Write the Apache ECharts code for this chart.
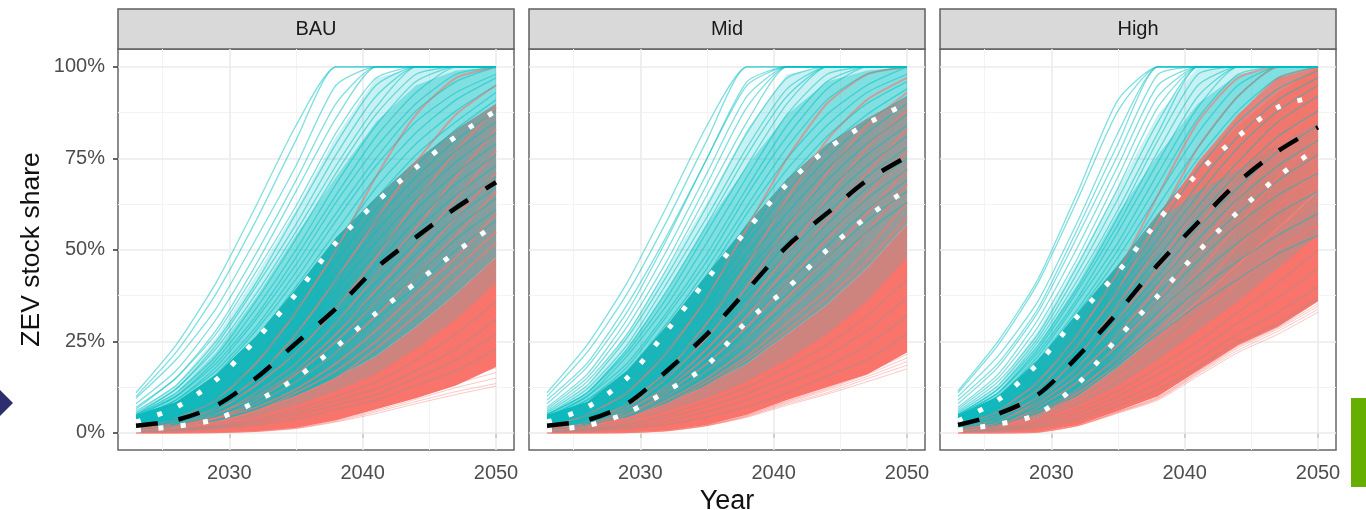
<!DOCTYPE html>
<html><head><meta charset="utf-8">
<style>html,body{margin:0;padding:0;background:#fff}#c{width:1366px;height:510px}</style>
<script src="https://cdn.jsdelivr.net/npm/echarts@6/dist/echarts.min.js"></script>
</head><body><div id="c"></div>
<script>
const years=[2023,2026,2029,2032,2035,2038,2041,2044,2047,2050];
const panels=['BAU','Mid','High'];
const yTicks=[0,25,50,75,100];
const yMinor=[12.5,37.5,62.5,87.5];
const xTicks=[2030,2040,2050];
const xMinor=[2025,2035,2045];

// quantile and median curves
const bauUpper=[3,7,14.5,25.5,38,52,63,72.5,81,88];
const bauMedian=[2,3.5,7.5,15,24.5,34,45,53.5,61.5,68.5];
const bauLower=[.8,1.8,3.8,8.6,15,23.5,32.7,41,49.5,57];
const midUpper=[3,7,15,28,42,55.5,68,77.5,84.5,90];
const midMedian=[2,3.5,8,17,27,39,51,60,69,75.5];
const midLower=[.8,2,5.5,11.5,18.5,30.5,39.5,50,59,66.5];
const highUpper=[3.3,9,19,32,44,58,71,81,89,92];
const highMedian=[2.2,5.2,10.5,21,33,46,57.5,68.5,77,83.5];
const highLower=[.8,2.4,5.2,13.5,26,37.5,49.5,60.4,70,78];

// edges of the densely overlapped regions
const bauRedLo=[0,0,.1,.5,1.4,3.5,6.5,9.5,13,18];
const bauFade=[.7,1.2,2.4,4.5,7.5,11.5,16,23,31,41];
const bauRedHi=[.8,1.5,3,6,10,15,21,29,38,48];
const bauMixHi=[5,8.5,16,26.5,39.5,53.5,64.5,74.5,83,90];
const bauSoftHi=[5,11,22,37,54,70,85,95,99,100];
const bauOuter=[6,13,26,43,61,81,97,100,100,100];
const midRedLo=[0,0,.1,.7,2.2,5,9,12.5,16,22];
const midFade=[.7,1.4,3,6,9.5,14,20,27,36,48];
const midRedHi=[.8,1.8,4,8,13,19,27,35,45,57];
const midMixHi=[5,8.5,17,29.5,43.5,57,69.5,79,86,92];
const midSoftHi=[5,11,23,39,57,73,87,96,99,100];
const midOuter=[6,13,27,45,63,83,98,100,100,100];
const highRedLo=[0,.05,.3,2.2,6,10,17,24,29,36];
const highFade=[.7,1.5,3.5,7.5,13,20,28,36,45,54];
const highRedHi=[.8,2,4.5,10,18,27,36,46,56,66];
const highMixHi=[5,10,20,33,46,60,73,84,93,100];
const highSoftHi=[5,11,24,41,60,76,90,98,100,100];
const highOuter=[6,13,28,47,67,87,100,100,100,100];
const highPatchLo=[3.3,9,19,32,44,58,66,72,79,85];
const highPatchHi=[3.3,9,19,32,44,58,74,87,97,100];

const bauTeal=[
[11,24,41,62,84,100,100,100,100,100],[10,22,38,58,80,100,100,100,100,100],[9.5,20,34,53,73,95,100,100,100,100],
[8,17,31,49,69,90,100,100,100,100],[7,15,28,46,66,86,100,100,100,100],[6.5,15,27,44,62,82,97,100,100,100],
[6,13,25,41,60,79,95,100,100,100],[5.5,12,24,40,57,76,92,100,100,100],[5,12,23,38,55,73,89,100,100,100],
[5,11,21,36,53,71,87,98,100,100],[5,10,20,34,50,68,84,96,100,100],[4.5,10,19,32,48,65,81,93,100,100],
[4,9,18,31,46,63,78,90,98,100],[4,9,17,29,44,60,75,88,96,100],[4,8,16,28,42,58,73,85,93,98],
[4,8,15,26,40,55,70,82,91,97],[3.5,7,14,24,37,52,67,79,88,95],[3,7,13,23,35,50,64,76,85,93],
[3,6,12,21,33,47,61,73,83,91],[3,6,11,20,31,44,58,70,80,88],[3,5,10,18,29,42,55,67,77,85],
[2.5,5,9,17,27,39,52,64,74,82],[2.5,4,9,16,25,37,49,61,71,79],[2,4,8,15,23,34,46,58,68,76],
[2,4,7,14,22,32,43,55,65,73],[2,4,7,12,20,30,41,52,62,70],[2,3,6,11,19,28,38,49,59,67],
[1.5,3,6,10,17,26,36,46,56,64],[1.5,3,5,9,15,24,33,43,53,61],[1,2,5,8,14,22,31,40,50,58]];
const bauRed=[
[1.5,4,9,19,33,50,70,87,97,100],[1,3,7,15,27,42,58,74,87,95],[1,3,6,13,22,34,48,63,77,89],
[1,3,5,11,19,30,43,56,70,83],[1,2,5,10,17,27,39,51,64,77],[1,2,4,9,16,25,36,47,59,71],
[1,2,4,8,14,22,32,43,54,66],[1,2,4,7,12,19,28,38,48,60],[.8,2,3,6,11,17,25,35,45,55],
[.8,1.5,3,6,10,15,23,32,42,52]];
const bauGray=[[.5,1,2,3.8,6.5,10,14,20,27,36],[.5,1,1.8,3.3,5.6,8.8,12,17,23,31],[.4,.8,1.5,2.8,4.8,7.6,10.5,15,20,27],[.3,.6,1.2,2.2,3.8,6.4,9,13,17,23]];
const bauPale=[[0,0,.1,.4,1.2,3,5.3,8,10.5,12.8],[0,0,.1,.4,1.3,3.2,5.8,8.6,11.3,13.5],
[0,0,.1,.5,1.4,3.4,6.2,9.2,12.4,15],[0,0,.1,.5,1.5,3.7,6.6,10,13.5,16.5],[0,.1,.2,.6,1.7,4,7,10.6,14.4,17.8]];

const midTeal=[
[11,24,41,62,84,100,100,100,100,100],[10,22,38,58,80,100,100,100,100,100],[9,19,35,54,75,96,100,100,100,100],
[8,18,33,53,75,95,100,100,100,100],[7,16,31,50,71,92,100,100,100,100],[6.5,15,29,47,68,89,100,100,100,100],
[6,14,27,45,65,85,100,100,100,100],[5.5,13,26,43,62,82,97,100,100,100],[5,12,24,41,59,78,94,100,100,100],
[5,11,23,39,57,76,92,100,100,100],[5,11,22,37,55,73,90,100,100,100],[4.5,10,21,35,52,70,87,98,100,100],
[4,10,19,33,49,67,84,96,100,100],[4,9,18,32,47,65,81,94,100,100],[4,9,17,30,45,62,78,91,98,100],
[4,8,16,28,43,60,75,87,95,100],[3.5,8,15,26,41,57,72,84,93,98],[3,7,14,25,39,54,69,81,90,96],
[3,7,13,24,37,52,66,78,87,94],[3,6,12,22,35,49,63,75,85,92],[3,6,11,21,33,47,60,72,82,90],
[2.5,5,10,19,31,44,57,69,79,87],[2.5,5,10,18,29,42,55,66,76,84],[2,4,9,17,27,39,52,63,73,81],
[2,4,8,15,25,37,49,60,70,78],[2,4,8,14,24,35,46,57,67,75],[2,3,7,13,22,33,43,54,64,72],
[1.5,3,6,12,20,30,41,51,61,69],[1.5,3,6,11,18,28,38,48,58,66],[1,2,5,10,17,26,35,45,55,63]];
const midRed=[
[1.5,5,11,22,37,56,75,90,98,100],[1,3,8,17,30,46,64,80,91,97],[1,3,7,15,26,40,56,71,84,93],
[1,3,6,13,23,35,49,64,78,88],[1,2,6,12,21,32,45,58,71,83],[1,2,5,11,19,29,41,53,65,77],
[1,2,5,10,17,26,37,48,60,72],[1,2,4,9,15,23,33,43,55,68],[.8,2,4,8,14,21,30,39,50,63],
[.8,2,4,7,13,20,28,37,47,59]];
const midGray=[[.5,1.2,2.5,5,8.5,12.5,18,24,32,42],[.5,1,2.2,4.2,7.2,10.8,15.5,21,28,37],[.4,.8,1.6,3.2,5.8,9,13.5,18,24,32],[.3,.6,1.2,2.4,4.4,7.2,11,15.5,20,27]];
const midPale=[[0,0,.1,.6,2,4.3,7.6,10.6,14,17.5],[0,0,.1,.6,2,4.5,8,11,14.8,18.5],
[0,0,.1,.6,2.1,4.6,8.3,11.6,15.4,19.5],[0,0,.1,.7,2.1,4.8,8.6,12,16,20.5],[0,.1,.1,.7,2.2,4.9,8.8,12.3,16.4,21.5]];

const highTeal=[
[11.5,25,42,66,91,100,100,100,100,100],[11,24,41,64,88,100,100,100,100,100],[10,21,36,58,82,100,100,100,100,100],
[9,19,34,56,79,100,100,100,100,100],[8,18,33,54,76,98,100,100,100,100],[7,16,31,51,73,95,100,100,100,100],
[6.5,15,29,48,70,92,100,100,100,100],[6,14,27,46,67,89,100,100,100,100],[5.5,13,26,44,64,85,100,100,100,100],
[5,12,25,42,61,82,100,100,100,100],[5,12,24,40,59,80,98,100,100,100],[5,11,23,39,57,77,95,100,100,100],
[4.5,11,22,37,55,74,92,100,100,100],[4,10,21,36,52,71,89,100,100,100],[4,10,20,34,50,68,86,98,100,100],
[4,9,19,33,48,65,82,95,100,100],[3.5,9,18,31,45,62,78,92,100,100],[3,8,17,29,43,59,75,88,97,100],
[3,8,16,27,41,56,72,85,94,99],[3,7,15,26,39,53,68,81,91,97],[3,7,14,24,37,51,65,78,88,95],
[2.5,6,13,23,35,48,62,74,85,92],[2.5,6,12,22,33,46,59,71,81,88],[2,5,11,21,31,43,56,67,77,84],
[2,5,10,19,29,41,53,64,73,80],[2,4,9,18,27,38,50,60,69,76],[2,4,9,16,25,36,47,57,65,71],
[1.5,3,8,15,23,33,43,52,60,66],[1.5,3,7,13,21,30,39,47,54,60],[1,2,6,12,19,27,35,42,49,54]];
const highRed=[
[2,6,14,27,44,65,85,97,100,100],[1.5,5,12,24,39,58,78,92,100,100],[1,4,10,21,35,51,70,86,97,100],
[1,3,9,18,31,45,63,79,92,100],[1,3,8,16,27,40,56,71,85,96],[1,2,7,14,24,36,50,64,78,89],
[1,2,6,12,21,32,44,57,70,81],[.8,2,5,11,19,28,39,51,62,72],[.8,2,5,10,17,26,36,46,56,64],
[.8,2,4,9,15,23,32,41,50,57]];
const highGray=[[.5,1.2,3,6.5,11.5,18,25,33,41,50],[.5,1,2.5,5.5,10,16,22.5,30,37,45],[.4,.8,2,4.5,8.6,13.5,20,27,33,40],[.3,.6,1.5,3.6,7.4,11.8,18,25,30,37]];
const highPale=[[0,0,.2,2,5.4,9,15.5,22,27,33],[0,0,.2,2,5.6,9.3,16,22.6,27.8,33.8],
[0,0,.2,2.1,5.7,9.5,16.3,23.2,28.4,34.6],[0,.05,.3,2.1,5.8,9.7,16.6,23.6,28.8,35.3],[0,.05,.3,2.2,5.9,9.9,16.8,23.9,29,36]];

const left=[118,529,940];
const gridW=396, gridTop=49, gridH=401;
const TEAL='rgba(0,191,196,0.5)', RED='rgba(248,118,109,0.62)', PALE='rgba(248,118,109,0.4)', GRAY='rgba(140,150,150,0.28)';
const sets=[
 {u:bauUpper,m:bauMedian,l:bauLower,lo:bauRedLo,fade:bauFade,hi:bauRedHi,mix:bauMixHi,soft:bauSoftHi,outer:bauOuter,teal:bauTeal,red:bauRed,gray:bauGray,pale:bauPale,
  stops:[[0,'#19b6ba'],[.5,'#1db4b7'],[.72,'#5fa6a8'],[1,'#8c9c9c']]},
 {u:midUpper,m:midMedian,l:midLower,lo:midRedLo,fade:midFade,hi:midRedHi,mix:midMixHi,soft:midSoftHi,outer:midOuter,teal:midTeal,red:midRed,gray:midGray,pale:midPale,
  stops:[[0,'#19b6ba'],[.45,'#24b2b5'],[.66,'#6fa3a4'],[1,'#9a9a98']]},
 {u:highUpper,m:highMedian,l:highLower,lo:highRedLo,fade:highFade,hi:highRedHi,mix:highMixHi,soft:highSoftHi,outer:highOuter,teal:highTeal,red:highRed,gray:highGray,pale:highPale,
  patchLo:highPatchLo,patchHi:highPatchHi,
  stops:[[0,'#19b6ba'],[.4,'#2bb0b3'],[.58,'#8c9c9c'],[.72,'#b08e8a'],[.85,'#d08078'],[1,'#e27c74']]}
];
const pts=a=>a.map((v,i)=>[years[i],v]);
const base={silent:true,animation:false,symbol:'none',showSymbol:false};
const grad=stops=>new echarts.graphic.LinearGradient(0,0,1,0,stops.map(p=>({offset:p[0],color:p[1]})));

const grids=[],xAxes=[],yAxes=[],series=[],graphic=[];
panels.forEach((name,i)=>{
  const s=sets[i];
  grids.push({left:left[i],top:gridTop,width:gridW,height:gridH,show:true,borderColor:'#666',borderWidth:1.5,backgroundColor:'#fff',outerBoundsMode:'none',containLabel:false});
  xAxes.push({gridIndex:i,type:'value',min:2021.65,max:2051.35,
    name:i===1?'Year':'',nameLocation:'middle',nameGap:38,nameTextStyle:{fontFamily:'Liberation Sans',fontSize:27,color:'#111'},
    axisLine:{show:false},splitLine:{show:false},
    axisTick:{show:true,length:5,lineStyle:{color:'#333',width:1.5},customValues:xTicks},
    axisLabel:{customValues:xTicks,fontFamily:'Liberation Sans',fontSize:20,color:'#4d4d4d',margin:13,formatter:v=>String(v),hideOverlap:false}});
  yAxes.push({gridIndex:i,type:'value',min:-4.65,max:104.9,
    name:i===0?'ZEV stock share':'',nameLocation:'middle',nameRotate:90,nameGap:73,nameTextStyle:{fontFamily:'Liberation Sans',fontSize:26.5,color:'#111'},
    axisLine:{show:false},splitLine:{show:false},
    axisTick:{show:i===0,length:5,lineStyle:{color:'#333',width:1.5},customValues:yTicks},
    axisLabel:{show:i===0,customValues:yTicks,fontFamily:'Liberation Sans',fontSize:20,color:'#4d4d4d',margin:13,formatter:v=>v+'%'}});
  const ax={xAxisIndex:i,yAxisIndex:i};
  const gridSeries=(xs,ys,w,c)=>({type:'line',...ax,...base,data:[],z:1,
    markLine:{z:1,silent:true,animation:false,symbol:'none',label:{show:false},lineStyle:{color:c,width:w,type:'solid'},
      data:[...xs.map(v=>({xAxis:v})),...ys.map(v=>({yAxis:v}))]}});
  series.push(gridSeries(xMinor,yMinor,1,'#f3f3f3'));
  series.push(gridSeries(xTicks,yTicks,1.6,'#ebebeb'));
  // filled regions between two curves, mapped through the axis scales
  const band=(lo,hi,fill)=>({type:'custom',...ax,silent:true,animation:false,z:2,clip:true,
    data:[[years[0],lo[0]]],
    renderItem:(p,api)=>{
      const top=years.map((y,k)=>api.coord([y,hi[k]]));
      const bot=years.map((y,k)=>api.coord([y,lo[k]])).reverse();
      return {type:'polygon',shape:{points:top.concat(bot)},style:{fill}};
    }});
  series.push(band(s.lo,s.hi,'#f9746b'));
  series.push(band(s.fade,s.hi,'rgba(140,155,155,0.4)'));
  series.push(band(s.hi,s.mix,grad(s.stops)));
  series.push(band(s.mix,s.soft,'rgba(0,191,196,0.5)'));
  series.push(band(s.soft,s.outer,'rgba(0,191,196,0.22)'));
  if(s.patchLo) series.push(band(s.patchLo,s.patchHi,'rgba(244,118,108,0.85)'));
  s.pale.forEach(d=>series.push({type:'line',...ax,...base,smooth:.2,data:pts(d),lineStyle:{color:PALE,width:1},z:3}));
  s.gray.forEach(d=>series.push({type:'line',...ax,...base,smooth:.2,data:pts(d),lineStyle:{color:GRAY,width:2},z:3}));
  s.red.forEach(d=>series.push({type:'line',...ax,...base,smooth:.2,data:pts(d),lineStyle:{color:RED,width:2},z:3}));
  s.teal.forEach(d=>series.push({type:'line',...ax,...base,smooth:.2,data:pts(d),lineStyle:{color:TEAL,width:1.3},z:4}));
  series.push({type:'line',...ax,...base,smooth:.3,data:pts(s.u),lineStyle:{color:'#fff',width:5,type:[5,17.5]},z:5});
  series.push({type:'line',...ax,...base,smooth:.3,data:pts(s.l),lineStyle:{color:'#fff',width:5,type:[5,17.5]},z:5});
  series.push({type:'line',...ax,...base,smooth:.3,data:pts(s.m),lineStyle:{color:'#000',width:4.5,type:[22,21]},z:6});
  graphic.push({type:'rect',shape:{x:left[i],y:9,width:gridW,height:40},style:{fill:'#d9d9d9',stroke:'#5f5f5f',lineWidth:1.5},silent:true});
  graphic.push({type:'text',x:left[i]+gridW/2,y:29,style:{text:name,fill:'#1a1a1a',font:'20px "Liberation Sans"',textAlign:'center',textVerticalAlign:'middle'},silent:true});
});
graphic.push({type:'polygon',shape:{points:[[0,390],[13,403],[0,416]]},style:{fill:'#2e2e6e'},silent:true});
graphic.push({type:'rect',shape:{x:1351,y:398,width:15,height:89},style:{fill:'#66ae00'},silent:true});

const chart=echarts.init(document.getElementById('c'),null,{renderer:'canvas'});
chart.setOption({animation:false,backgroundColor:'#fff',grid:grids,xAxis:xAxes,yAxis:yAxes,series,graphic});
</script></body></html>
